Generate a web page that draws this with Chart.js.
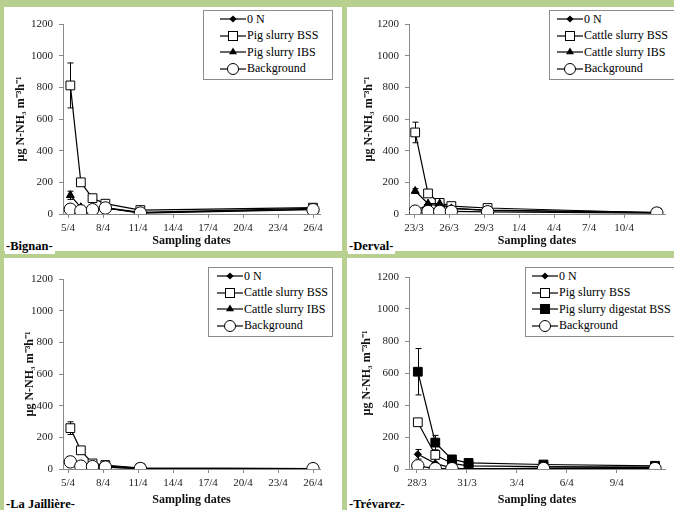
<!DOCTYPE html>
<html lang="en">
<head>
<meta charset="UTF-8">
<title>NH3 emissions after slurry spreading</title>
<style>
  body {
    margin: 0;
    width: 674px;
    height: 510px;
    overflow: hidden;
    position: relative;
    background-color: #b7d08f;
    font-family: "Liberation Serif", "Times New Roman", serif;
  }
  .panel { position: absolute; background: white; overflow: hidden; }
  .panel canvas { position: absolute; left: 0; top: 0; }
  .legend {
    position: absolute;
    border: 1px solid #8c8c8c;
    background: white;
    font-size: 12px;
    padding: 0 4px 2px 8px;
    white-space: nowrap;
    box-sizing: border-box;
    height: 70px;
  }
  .legend div { height: 16.5px; display: flex; align-items: center; }
  .legend svg { margin-right: 1px; flex: none; }
  .site {
    position: absolute;
    background: white;
    font-weight: bold;
    font-size: 12.5px;
    padding: 0 2px 0 1px;
    line-height: 15px;
  }
</style>
</head>
<body>

<script src="https://cdn.jsdelivr.net/npm/chart.js"></script>
<script>
  // sampling dates are day numbers counted from 1 March (1/4 = 32)
  var bignanDates = [36.2, 37.1, 38.1, 39.2, 42.2, 57];
  var bignanSeries = ['0 N', 'Pig slurry BSS', 'Pig slurry IBS', 'Background'];
  var bignan0N = [30, 22, 28, 38, 8, 30];
  var bignanBSS = [812, 200, 100, 65, 25, 40];
  var bignanBSSErr = [142, 15, 10, 0, 0, 0];
  var bignanIBS = [118, 42, 30, 40, 10, 35];
  var bignanIBSErr = [26, 0, 0, 0, 0, 0];
  var bignanBg = [30, 20, 27, 38, 6, 27];

  var dervalDates = [23.1, 24.2, 25.2, 26.2, 29.3, 43.8];
  var dervalSeries = ['0 N', 'Cattle slurry BSS', 'Cattle slurry IBS', 'Background'];
  var derval0N = [18, 60, 55, 35, 22, 8];
  var dervalBSS = [515, 130, 70, 50, 38, 8];
  var dervalBSSErr = [65, 0, 0, 0, 0, 0];
  var dervalIBS = [145, 65, 65, 35, 25, 10];
  var dervalIBSErr = [15, 0, 0, 0, 0, 0];
  var dervalBg = [18, 16, 16, 16, 14, 6];

  var jaillDates = [36.2, 37.1, 38.1, 39.2, 42.2, 57];
  var jaillSeries = ['0 N', 'Cattle slurry BSS', 'Cattle slurry IBS', 'Background'];
  var jaill0N = [45, 18, 14, 12, 3, 2];
  var jaillBSS = [258, 118, 35, 25, 5, 3];
  var jaillBSSErr = [40, 0, 0, 0, 0, 0];
  var jaillIBS = [40, 20, 15, 18, 5, 3];
  var jaillBg = [45, 18, 15, 12, 3, 2];

  var trevDates = [28.05, 29.1, 30.1, 31.1, 35.6, 42.3];
  var trevSeries = ['0 N', 'Pig slurry BSS', 'Pig slurry digestat BSS', 'Background'];
  var trev0N = [92, 35, 5, 0, 5, 10];
  var trev0NErr = [30, 0, 0, 0, 0, 0];
  var trevBSS = [292, 88, 35, 20, 15, 12];
  var trevDig = [608, 165, 60, 38, 28, 20];
  var trevDigErr = [145, 45, 0, 0, 0, 0];
  var trevBg = [20, 2, 2, null, 3, 3];

  var yTicks = [0, 200, 400, 600, 800, 1000, 1200];

  // marker look for each kind of series
  var markers = {
    diamond:  { pointStyle: 'rectRot', radius: 3.6, fill: '#000' },
    openSq:   { pointStyle: 'rect', radius: 6.2, fill: '#fff' },
    triangle: { pointStyle: 'triangle', radius: 4.6, fill: '#000' },
    square:   { pointStyle: 'rect', radius: 6.2, fill: '#000' },
    circle:   { pointStyle: 'circle', radius: 6.2, fill: '#fff' }
  };

  function dayLabel(d) {
    d = Math.round(d);
    return d <= 31 ? d + '/3' : (d - 31) + '/4';
  }

  function pts(dates, values) {
    var out = [];
    for (var i = 0; i < dates.length; i++) out.push({ x: dates[i], y: values[i] });
    return out;
  }

  var errorBars = {
    id: 'errorBars',
    beforeDatasetsDraw: function(chart) {
      var ctx = chart.ctx, xs = chart.scales.x, ys = chart.scales.y;
      ctx.save();
      ctx.strokeStyle = '#000';
      ctx.lineWidth = 1;
      chart.data.datasets.forEach(function(ds) {
        if (!ds.errors) return;
        ds.data.forEach(function(p, i) {
          var e = ds.errors[i];
          if (!e || p.y == null) return;
          var x = Math.round(xs.getPixelForValue(p.x)) + 0.5;
          var y1 = ys.getPixelForValue(p.y + e), y2 = ys.getPixelForValue(p.y - e);
          ctx.beginPath();
          ctx.moveTo(x, y1); ctx.lineTo(x, y2);
          ctx.moveTo(x - 3, y1); ctx.lineTo(x + 3, y1);
          ctx.moveTo(x - 3, y2); ctx.lineTo(x + 3, y2);
          ctx.stroke();
        });
      });
      ctx.restore();
    }
  };

  function legendSvg(kind) {
    var m = markers[kind], s = '<svg width="26" height="14">' +
      '<line x1="0" y1="7" x2="26" y2="7" stroke="#000" stroke-width="1.2"/>';
    if (kind === 'diamond') s += '<polygon points="13,3.4 16.6,7 13,10.6 9.4,7" fill="#000"/>';
    if (kind === 'triangle') s += '<polygon points="13,2.4 17,9.3 9,9.3" fill="#000"/>';
    if (kind === 'openSq' || kind === 'square')
      s += '<rect x="8.5" y="2.5" width="9" height="9" fill="' + m.fill + '" stroke="#000"/>';
    if (kind === 'circle') s += '<circle cx="13" cy="7" r="5.5" fill="#fff" stroke="#000"/>';
    return s + '</svg>';
  }

  function addPanel(p) {
    var panel = document.createElement('div');
    panel.className = 'panel';
    panel.style.cssText = 'left:' + p.left + 'px;top:' + p.top + 'px;width:' + p.w + 'px;height:' + p.h + 'px';
    var canvas = document.createElement('canvas');
    canvas.width = p.w; canvas.height = p.h;
    panel.appendChild(canvas);

    var legend = document.createElement('div');
    legend.className = 'legend';
    legend.style.cssText = 'left:' + p.legend[0] + 'px;top:' + p.legend[1] + 'px;width:' + p.legend[2] + 'px;padding-left:' + p.legend[3] + 'px';
    p.names.forEach(function(name, i) {
      legend.innerHTML += '<div>' + legendSvg(p.kinds[i]) + '<span>' + name + '</span></div>';
    });
    panel.appendChild(legend);
    document.body.appendChild(panel);

    var site = document.createElement('div');
    site.className = 'site';
    site.textContent = p.site;
    site.style.cssText = 'left:' + (p.left + 1) + 'px;top:' + p.siteTop + 'px';
    document.body.appendChild(site);

    // background circles on top, then 0 N, then the treatments
    var drawOrder = [1, 3, 2, 0];
    var datasets = p.values.map(function(vals, i) {
      var m = markers[p.kinds[i]];
      return {
        label: p.names[i],
        data: pts(p.dates, vals),
        errors: p.errors[i],
        order: drawOrder[i],
        borderColor: '#000',
        borderWidth: 1.2,
        pointStyle: m.pointStyle,
        pointRadius: m.radius,
        pointBackgroundColor: m.fill,
        pointBorderColor: '#000',
        pointBorderWidth: 1,
        spanGaps: true,
        tension: 0
      };
    });

    var tickFont = { family: 'Liberation Serif', size: 11 };
    var titleFont = { family: 'Liberation Serif', size: 12, weight: 'bold' };

    new Chart(canvas, {
      type: 'line',
      data: { datasets: datasets },
      plugins: [errorBars],
      options: {
        responsive: false,
        animation: false,
        events: [],
        layout: { padding: { top: p.plotTop, right: p.w - p.plotRight, left: 0, bottom: 0 } },
        plugins: { legend: { display: false }, tooltip: { enabled: false } },
        scales: {
          x: {
            type: 'linear',
            min: p.xMin,
            max: p.xMax,
            afterBuildTicks: function(scale) {
              var t = [];
              for (var v = p.firstTick; v <= p.lastTick; v += 3) t.push({ value: v });
              scale.ticks = t;
            },
            afterFit: function(scale) { scale.height = p.h - p.plotBottom; },
            ticks: {
              autoSkip: false, maxRotation: 0, padding: 4,
              color: '#222', font: tickFont,
              callback: function(v) { return dayLabel(v); }
            },
            grid: { drawOnChartArea: false, tickLength: 4, color: '#8a8a8a' },
            border: { color: '#8a8a8a' },
            title: {
              display: true, text: 'Sampling dates', color: '#111', font: titleFont,
              padding: { top: 0, bottom: p.xTitlePad }
            }
          },
          y: {
            min: 0,
            max: 1200,
            afterBuildTicks: function(scale) {
              scale.ticks = yTicks.map(function(v) { return { value: v }; });
            },
            afterFit: function(scale) { scale.width = p.plotLeft; },
            ticks: {
              padding: 6, color: '#222', font: tickFont,
              callback: function(v) { return String(v); }
            },
            grid: { drawOnChartArea: false, tickLength: 4, color: '#8a8a8a' },
            border: { color: '#8a8a8a' },
            title: {
              display: true, text: 'µg N-NH₃ m⁻³h⁻¹', color: '#111', font: titleFont,
              padding: { top: p.yTitleX - 7.2, bottom: 0 }
            }
          }
        }
      }
    });
  }

  addPanel({
    site: '-Bignan-', left: 4, top: 7, w: 338, h: 244, siteTop: 239,
    plotLeft: 59, plotTop: 17, plotBottom: 207, plotRight: 316, yTitleX: 17, xTitlePad: 2.5,
    xMin: 35.57, xMax: 57.6, firstTick: 36, lastTick: 57,
    legend: [199, 3, 130, 16],
    names: bignanSeries, kinds: ['diamond', 'openSq', 'triangle', 'circle'],
    dates: bignanDates,
    values: [bignan0N, bignanBSS, bignanIBS, bignanBg],
    errors: [null, bignanBSSErr, bignanIBSErr, null]
  });

  addPanel({
    site: '-Derval-', left: 347, top: 7, w: 327, h: 244, siteTop: 239,
    plotLeft: 62, plotTop: 17, plotBottom: 207, plotRight: 318, yTitleX: 22, xTitlePad: 2.5,
    xMin: 22.57, xMax: 44.5, firstTick: 23, lastTick: 41,
    legend: [202, 3, 140, 7],
    names: dervalSeries, kinds: ['diamond', 'openSq', 'triangle', 'circle'],
    dates: dervalDates,
    values: [derval0N, dervalBSS, dervalIBS, dervalBg],
    errors: [null, dervalBSSErr, dervalIBSErr, null]
  });

  addPanel({
    site: '-La Jaillière-', left: 4, top: 258, w: 338, h: 256, siteTop: 497,
    plotLeft: 59, plotTop: 21, plotBottom: 211, plotRight: 316, yTitleX: 26, xTitlePad: 6.5,
    xMin: 35.57, xMax: 57.6, firstTick: 36, lastTick: 57,
    legend: [204, 9, 125, 8],
    names: jaillSeries, kinds: ['diamond', 'openSq', 'triangle', 'circle'],
    dates: jaillDates,
    values: [jaill0N, jaillBSS, jaillIBS, jaillBg],
    errors: [null, jaillBSSErr, null, null]
  });

  addPanel({
    site: '-Trévarez-', left: 347, top: 258, w: 327, h: 256, siteTop: 497,
    plotLeft: 62, plotTop: 19, plotBottom: 211, plotRight: 318, yTitleX: 20, xTitlePad: 6.5,
    xMin: 27.52, xMax: 42.9, firstTick: 28, lastTick: 40,
    legend: [178, 9, 160, 6],
    names: trevSeries, kinds: ['diamond', 'openSq', 'square', 'circle'],
    dates: trevDates,
    values: [trev0N, trevBSS, trevDig, trevBg],
    errors: [trev0NErr, null, trevDigErr, null]
  });
</script>
</body>
</html>
